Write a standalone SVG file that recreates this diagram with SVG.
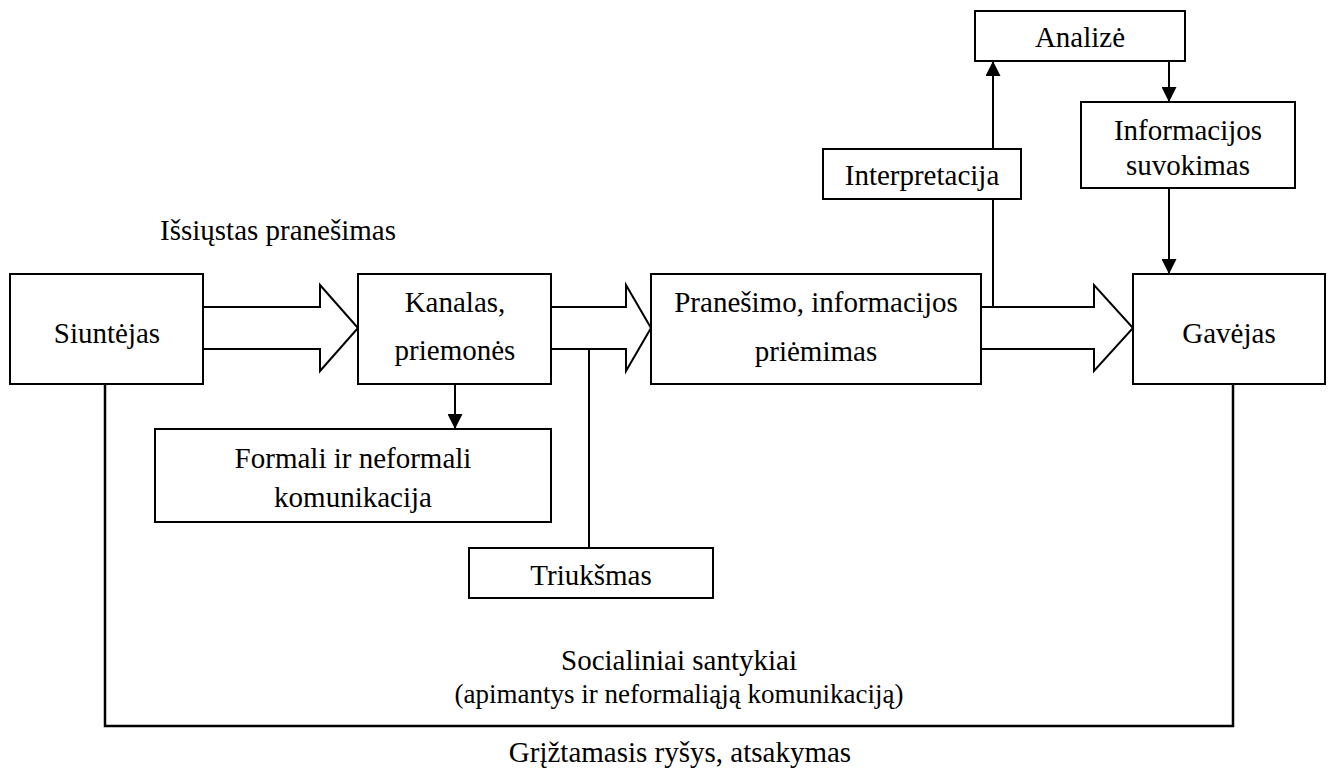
<svg xmlns="http://www.w3.org/2000/svg" width="1333" height="770" viewBox="0 0 1333 770">
<style>
.box{fill:#fff;stroke:#000;stroke-width:2}
.t{font-family:"Liberation Serif","Times New Roman",serif;font-size:29px;fill:#000;text-anchor:middle}
.ts{font-size:27px}
.ln{fill:none;stroke:#000;stroke-width:2}
.fb{fill:none;stroke:#000;stroke-width:2.5}
.blk{fill:#fff;stroke:#000;stroke-width:2;stroke-linejoin:miter}
</style>
<defs>
<marker id="ah" viewBox="0 0 10 10" refX="10" refY="5" markerWidth="15" markerHeight="15" markerUnits="userSpaceOnUse" orient="auto">
<path d="M0,0 L10,5 L0,10 Z" fill="#000"/>
</marker>
</defs>
<rect width="1333" height="770" fill="#fff"/>
<g id="connectors">
<path class="blk" d="M203,307 H320 V285 L358,328 L320,371 V349 H203"/>
<path class="blk" d="M551,307 H626 V285 L651,328 L626,371 V349 H551"/>
<path class="blk" d="M981,307 H1094 V285 L1133,328 L1094,371 V349 H981"/>
<line class="ln" x1="589" y1="349" x2="589" y2="548"/>
<line class="ln" x1="455" y1="384" x2="455" y2="429" marker-end="url(#ah)"/>
<line class="ln" x1="993" y1="307" x2="993" y2="199"/>
<line class="ln" x1="993" y1="149" x2="993" y2="61" marker-end="url(#ah)"/>
<line class="ln" x1="1169" y1="61" x2="1169" y2="102" marker-end="url(#ah)"/>
<line class="ln" x1="1169" y1="188" x2="1169" y2="274" marker-end="url(#ah)"/>
<path class="fb" d="M105,384 V726 H1233 V384"/>
</g>
<g id="label-issiustas"><text class="t" x="160" y="240" style="text-anchor:start">Išsiųstas pranešimas</text></g>
<g id="siuntejas"><rect class="box" x="10" y="274" width="193" height="110"/><text class="t" x="107" y="343">Siuntėjas</text></g>
<g id="kanalas"><rect class="box" x="358" y="274" width="193" height="110"/><text class="t" x="455" y="312">Kanalas,</text><text class="t" x="455" y="360">priemonės</text></g>
<g id="pranesimo"><rect class="box" x="651" y="274" width="330" height="110"/><text class="t" x="816" y="312">Pranešimo, informacijos</text><text class="t" x="816" y="361">priėmimas</text></g>
<g id="gavejas"><rect class="box" x="1133" y="274" width="192" height="110"/><text class="t" x="1229" y="343">Gavėjas</text></g>
<g id="interpretacija"><rect class="box" x="823" y="149" width="198" height="50"/><text class="t" x="922" y="185">Interpretacija</text></g>
<g id="analize"><rect class="box" x="975" y="11" width="210" height="50"/><text class="t" x="1080" y="47">Analizė</text></g>
<g id="informacijos-suvokimas"><rect class="box" x="1081" y="102" width="214" height="86"/><text class="t" x="1188" y="140">Informacijos</text><text class="t" x="1188" y="175">suvokimas</text></g>
<g id="formali"><rect class="box" x="155" y="429" width="396" height="93"/><text class="t" x="353" y="468">Formali ir neformali</text><text class="t" x="353" y="507">komunikacija</text></g>
<g id="triuksmas"><rect class="box" x="469" y="548" width="244" height="50"/><text class="t" x="591" y="585">Triukšmas</text></g>
<g id="socialiniai"><text class="t" x="679" y="670">Socialiniai santykiai</text><text class="t ts" x="679" y="703">(apimantys ir neformaliąją komunikaciją)</text></g>
<g id="label-griztamasis"><text class="t" x="680" y="762">Grįžtamasis ryšys, atsakymas</text></g>
</svg>
